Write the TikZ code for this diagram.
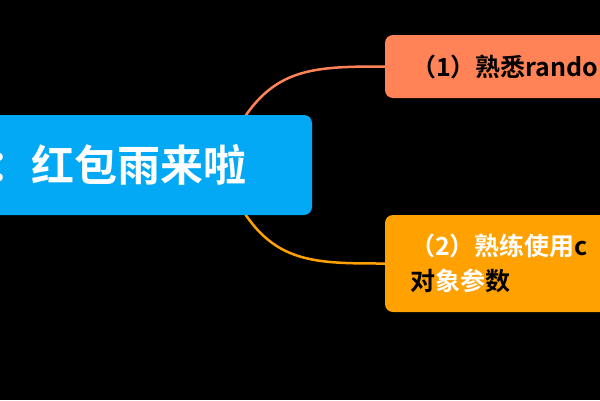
\documentclass[tikz,border=0pt]{standalone}
\usepackage{fontspec}
\newfontfamily\cjk{Noto Sans CJK SC}[BoldFont={* Bold}]
\usetikzlibrary{backgrounds}
\definecolor{mainblue}{RGB}{3,169,244}
\definecolor{subcoral}{RGB}{255,131,87}
\definecolor{suborange}{RGB}{255,161,0}
\tikzset{
  topic/.style={rectangle, rounded corners=8pt, align=left, anchor=center},
  link/.style={line width=2.5pt}
}

\begin{document}
\begin{tikzpicture}[x=1pt,y=-1pt]
\useasboundingbox (0,0) rectangle (600,400);
\clip (0,0) rectangle (600,400);
% topics
\node[topic, fill=mainblue, text=white, font=\cjk\bfseries\fontsize{43}{50}\selectfont,
  inner xsep=29pt, text width=294pt, minimum height=100pt] (main) at (136,165) {：红包雨来啦};
\node[topic, fill=subcoral, text=black, font=\cjk\bfseries\fontsize{25}{35}\selectfont,
  inner xsep=26pt, text width=263pt, minimum height=63pt] (sub1) at (542.5,66.5) {（1）熟悉rando};
\node[topic, fill=suborange, text=black, font=\cjk\bfseries\fontsize{25}{35}\selectfont,
  inner xsep=25pt, text width=265pt, minimum height=97pt] (sub2) at (542.5,263.5)
  {{\color{white}（2）熟练使用}c\\对{\color{white}象参}数};
\coordinate (hub) at (220,165);
% branches
\begin{scope}[on background layer]
\fill[black] (0,0) rectangle (600,400);
\draw[link, subcoral] (hub) .. controls (260,68) and (300,66.5) .. (sub1.west);
\draw[link, suborange] (hub) .. controls (260,263) and (300,263.5) .. (sub2.west);
\end{scope}
\end{tikzpicture}
\end{document}
